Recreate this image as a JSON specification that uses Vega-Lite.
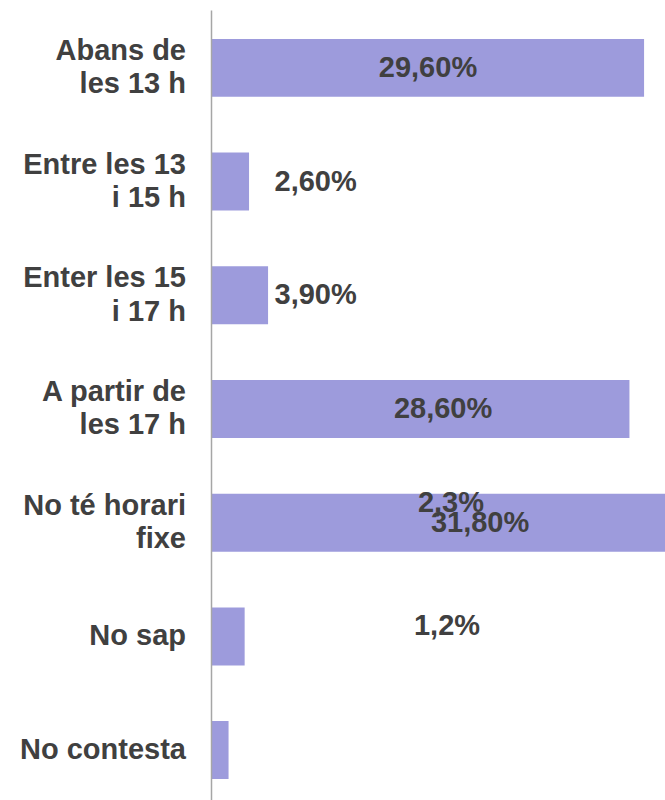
{
  "$schema": "https://vega.github.io/schema/vega-lite/v6.json",
  "width": 454,
  "height": 790,
  "autosize": {"type": "none"},
  "padding": {"left": 211, "top": 10, "right": 0, "bottom": 0},
  "background": "white",
  "config": {"view": {"stroke": null}, "font": "Liberation Sans"},
  "data": {
    "values": [
      {"cat": "Abans de|les 13 h", "value": 29.6, "label": "29,60%"},
      {"cat": "Entre les 13|i 15 h", "value": 2.6, "label": "2,60%"},
      {"cat": "Enter les 15|i 17 h", "value": 3.9, "label": "3,90%"},
      {"cat": "A partir de|les 17 h", "value": 28.6, "label": "28,60%"},
      {"cat": "No té horari|fixe", "value": 31.8, "label": "31,80%"},
      {"cat": "No sap", "value": 2.3, "label": "2,3%"},
      {"cat": "No contesta", "value": 1.2, "label": "1,2%"}
    ]
  },
  "encoding": {
    "y": {
      "field": "cat",
      "type": "nominal",
      "sort": null,
      "scale": {"paddingInner": 0.49, "paddingOuter": 0.219, "align": 0.58},
      "axis": {
        "title": null,
        "ticks": false,
        "grid": false,
        "labels": false,
        "domainColor": "#a6a6a6",
        "domainWidth": 1.5,
        "zindex": 1
      }
    }
  },
  "layer": [
    {
      "mark": {"type": "bar", "color": "#9d9bdc", "clip": true},
      "encoding": {
        "x": {
          "field": "value",
          "type": "quantitative",
          "scale": {"domain": [0, 31.03], "nice": false, "zero": true},
          "axis": null
        }
      }
    },
    {
      "transform": [{"filter": "indexof(datum.cat, '|') >= 0"}],
      "mark": {"type": "text", "font": "Liberation Sans", "fontSize": 29, "fontWeight": "bold", "color": "#404040", "align": "right", "baseline": "middle", "lineBreak": "|", "lineHeight": 33.3, "dx": -25, "dy": -17},
      "encoding": {"x": {"datum": 0, "type": "quantitative"}, "text": {"field": "cat"}}
    },
    {
      "transform": [{"filter": "indexof(datum.cat, '|') < 0"}],
      "mark": {"type": "text", "font": "Liberation Sans", "fontSize": 29, "fontWeight": "bold", "color": "#404040", "align": "right", "baseline": "middle", "dx": -25},
      "encoding": {"x": {"datum": 0, "type": "quantitative"}, "text": {"field": "cat"}}
    },
    {
      "transform": [{"filter": "datum.cat == 'Abans de|les 13 h'"}],
      "mark": {"type": "text", "font": "Liberation Sans", "fontSize": 29, "fontWeight": "bold", "color": "#404040", "align": "center", "baseline": "middle"},
      "encoding": {"x": {"datum": 14.83, "type": "quantitative"}, "text": {"field": "label"}}
    },
    {
      "transform": [{"filter": "datum.cat == 'Entre les 13|i 15 h' || datum.cat == 'Enter les 15|i 17 h'"}],
      "mark": {"type": "text", "font": "Liberation Sans", "fontSize": 29, "fontWeight": "bold", "color": "#404040", "align": "center", "baseline": "middle"},
      "encoding": {"x": {"datum": 7.15, "type": "quantitative"}, "text": {"field": "label"}}
    },
    {
      "transform": [{"filter": "datum.cat == 'A partir de|les 17 h'"}],
      "mark": {"type": "text", "font": "Liberation Sans", "fontSize": 29, "fontWeight": "bold", "color": "#404040", "align": "center", "baseline": "middle"},
      "encoding": {"x": {"datum": 15.86, "type": "quantitative"}, "text": {"field": "label"}}
    },
    {
      "transform": [{"filter": "datum.cat == 'No té horari|fixe'"}],
      "mark": {"type": "text", "font": "Liberation Sans", "fontSize": 29, "fontWeight": "bold", "color": "#404040", "align": "center", "baseline": "middle"},
      "encoding": {"x": {"datum": 18.39, "type": "quantitative"}, "text": {"field": "label"}}
    },
    {
      "transform": [{"filter": "datum.cat == 'No sap'"}],
      "mark": {"type": "text", "font": "Liberation Sans", "fontSize": 29, "fontWeight": "bold", "color": "#404040", "align": "center", "baseline": "middle", "dy": -133},
      "encoding": {"x": {"datum": 16.4, "type": "quantitative"}, "text": {"field": "label"}}
    },
    {
      "transform": [{"filter": "datum.cat == 'No contesta'"}],
      "mark": {"type": "text", "font": "Liberation Sans", "fontSize": 29, "fontWeight": "bold", "color": "#404040", "align": "center", "baseline": "middle", "dy": -124},
      "encoding": {"x": {"datum": 16.13, "type": "quantitative"}, "text": {"field": "label"}}
    }
  ]
}
